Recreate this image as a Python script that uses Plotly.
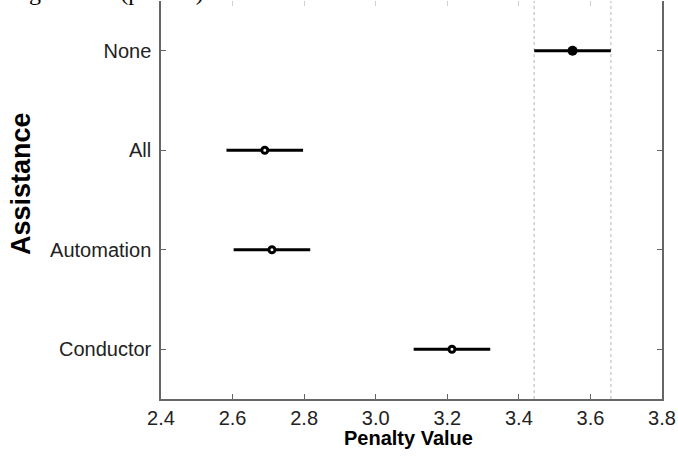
import plotly.graph_objects as go

# Data
groups = ["None", "All", "Automation", "Conductor"]
means = [3.55, 2.69, 2.71, 3.213]
half_widths = [0.107, 0.107, 0.107, 0.107]
selected = "None"
x_ticks = [2.4, 2.6, 2.8, 3.0, 3.2, 3.4, 3.6, 3.8]
x_tick_labels = ["2.4", "2.6", "2.8", "3.0", "3.2", "3.4", "3.6", "3.8"]
category_order = ["Conductor", "Automation", "All", "None"]  # bottom to top

W, H = 678, 461
L, R, T, B = 161, 16, 1, 62
plot_h = H - T - B
plot_w = W - L - R

def px_to_paper_y(py):
    return (H - B - py) / plot_h

def px_to_paper_x(px):
    return (px - L) / plot_w

fig = go.Figure()

sel_i = groups.index(selected)
sel_lo = means[sel_i] - half_widths[sel_i]
sel_hi = means[sel_i] + half_widths[sel_i]

# dotted reference lines at the selected group's interval
for xv in (sel_lo, sel_hi):
    fig.add_shape(type="line", xref="x", yref="paper", x0=xv, x1=xv, y0=0, y1=1,
                  line=dict(color="#cfcfcf", width=1.5, dash="dot"), layer="below")

# other groups: open circles
others = [i for i, g in enumerate(groups) if g != selected]
fig.add_trace(go.Scatter(
    x=[means[i] for i in others], y=[groups[i] for i in others],
    mode="markers",
    error_x=dict(type="data", array=[half_widths[i] for i in others],
                 color="black", thickness=2.8, width=0),
    marker=dict(symbol="circle", size=6, color="white",
                line=dict(color="black", width=3)),
    showlegend=False))

# selected group: filled circle
fig.add_trace(go.Scatter(
    x=[means[sel_i]], y=[groups[sel_i]], mode="markers",
    error_x=dict(type="data", array=[half_widths[sel_i]],
                 color="black", thickness=2.8, width=0),
    marker=dict(symbol="circle", size=10, color="black"),
    showlegend=False))

# invisible trace to drive the top tick axis
fig.add_trace(go.Scatter(x=[2.4], y=["None"], xaxis="x2", mode="markers",
                         marker=dict(opacity=0), showlegend=False, hoverinfo="skip"))

fig.update_layout(
    width=W, height=H,
    margin=dict(l=L, r=R, t=T, b=B, autoexpand=False),
    paper_bgcolor="white", plot_bgcolor="white",
    font=dict(family="Liberation Sans, Arial", size=20, color="#222222"),
    xaxis=dict(range=[2.4, 3.8], tickvals=x_ticks, ticktext=x_tick_labels,
               automargin=False,
               showline=True, linecolor="#666666", linewidth=1.5,
               ticks="inside", ticklen=5, tickcolor="#666666", tickwidth=1.2,
               showgrid=False, zeroline=False),
    xaxis2=dict(range=[2.4, 3.8], tickvals=x_ticks, overlaying="x", side="top",
                automargin=False,
                showline=False, showticklabels=False, ticks="inside", ticklen=5,
                tickcolor="#d0d0d0", showgrid=False, zeroline=False),
    yaxis=dict(type="category", categoryorder="array", categoryarray=category_order,
               range=[-0.5, 3.5], automargin=False,
               showline=True, mirror="ticks", linecolor="#666666", linewidth=1.5,
               ticks="inside", ticklen=5, tickcolor="#666666", tickwidth=1.2,
               ticklabelstandoff=4,
               showgrid=False, zeroline=False),
)

# axis titles as annotations (positioned as in the reference)
fig.add_annotation(text="<b>Penalty Value</b>", xref="paper", yref="paper",
                   x=px_to_paper_x(408), y=px_to_paper_y(438),
                   xanchor="center", yanchor="middle", showarrow=False,
                   font=dict(size=20, color="black"))
fig.add_annotation(text="<b>Assistance</b>", xref="paper", yref="paper",
                   x=px_to_paper_x(21), y=px_to_paper_y(184), textangle=-90,
                   xanchor="center", yanchor="middle", showarrow=False,
                   font=dict(size=27, color="black"))

fig.add_annotation(text="significant (p < .05).", xref="paper", yref="paper",
                   x=px_to_paper_x(212), y=px_to_paper_y(7), xanchor="right", yanchor="bottom",
                   showarrow=False,
                   font=dict(family="Liberation Serif, Times New Roman", size=24, color="black"))

fig.write_html("out.html", config={"displayModeBar": False},
               post_script="document.body.style.margin='0';document.body.style.overflow='hidden';")
